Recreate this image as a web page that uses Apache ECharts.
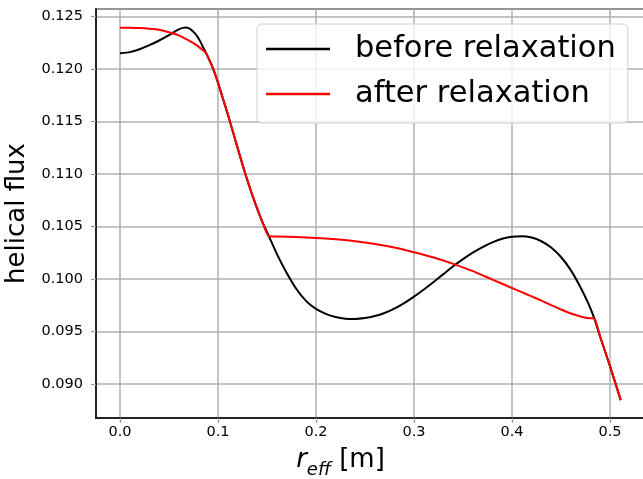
<!DOCTYPE html>
<html lang="en">
<head>
    <meta charset="UTF-8">
    <title>helical flux</title>
    <script src="https://cdn.jsdelivr.net/npm/echarts@6/dist/echarts.min.js"></script>
    <style>
        html, body { margin: 0; padding: 0; background: #fff; }
        #chart { width: 643px; height: 479px; }
    </style>
</head>
<body>
<div id="chart"></div>
<script type="text/javascript">
    // 数据: r_eff [m] 与 helical flux
    var seriesNames = ['before relaxation', 'after relaxation'];

    var rBefore = [0, 0.01, 0.02, 0.03, 0.04, 0.05, 0.055, 0.06, 0.064, 0.067, 0.07, 0.073, 0.076,
        0.079, 0.082, 0.085, 0.088,
        0.095, 0.10, 0.105, 0.11, 0.115, 0.12, 0.125, 0.13, 0.135, 0.14, 0.145, 0.152,
        0.16, 0.17, 0.18, 0.19, 0.20, 0.21, 0.22, 0.23, 0.24, 0.25, 0.26, 0.27, 0.28, 0.29,
        0.30, 0.31, 0.32, 0.33, 0.34, 0.35, 0.36, 0.37, 0.38, 0.39, 0.40, 0.41, 0.42, 0.43,
        0.44, 0.45, 0.46, 0.47, 0.478, 0.484, 0.49, 0.50, 0.511];
    var fluxBefore = [0.12151, 0.12162, 0.12190, 0.12228, 0.12273, 0.12323, 0.12353, 0.12378, 0.12393,
        0.12397, 0.12390, 0.12372, 0.12346,
        0.12310, 0.12262, 0.12205, 0.12150,
        0.12005, 0.11870, 0.11720, 0.11570, 0.11410, 0.11250, 0.11090, 0.10940, 0.10800, 0.10670,
        0.10550, 0.10407,
        0.10240, 0.10060, 0.09905, 0.09790, 0.09715, 0.09668, 0.09638, 0.09622, 0.09620, 0.09628,
        0.09647, 0.09677, 0.09718, 0.09770,
        0.09832, 0.09900, 0.09972, 0.10047, 0.10122, 0.10190, 0.10252, 0.10305, 0.10350, 0.10384,
        0.10404, 0.10408, 0.10395, 0.10360,
        0.10300, 0.10210, 0.10085, 0.09920, 0.09765, 0.09625, 0.09450, 0.09170, 0.08846];

    var rAfter = [0, 0.01, 0.02, 0.03, 0.04, 0.05, 0.06, 0.07, 0.075, 0.08, 0.084, 0.088,
        0.095, 0.10, 0.105, 0.11, 0.115, 0.12, 0.125, 0.13, 0.135, 0.14, 0.145, 0.152,
        0.16, 0.18, 0.20, 0.22, 0.24, 0.26, 0.28, 0.30, 0.32, 0.34, 0.36, 0.38, 0.40, 0.41, 0.42,
        0.43, 0.44, 0.45, 0.46, 0.47, 0.475, 0.48, 0.484, 0.49, 0.50, 0.511];
    var fluxAfter = [0.12395, 0.12394, 0.12391, 0.12385, 0.12375, 0.12352, 0.12322, 0.12275, 0.12247,
        0.12215, 0.12185, 0.12150,
        0.12005, 0.11870, 0.11720, 0.11570, 0.11410, 0.11250, 0.11090, 0.10940, 0.10800, 0.10670,
        0.10550, 0.10407,
        0.10406, 0.10401, 0.10392, 0.10378, 0.10360, 0.10334, 0.10300, 0.10255, 0.10205, 0.10145,
        0.10075, 0.09995, 0.09915, 0.09875, 0.09835, 0.09794,
        0.09752, 0.09710, 0.09672, 0.09643, 0.09632, 0.09627, 0.09625, 0.09450, 0.09170, 0.08846];

    function pairs(xs, ys) {
        var out = [];
        for (var i = 0; i < xs.length; i++) {
            out.push([xs[i], ys[i]]);
        }
        return out;
    }

    var font = 'DejaVu Sans';
    var chart = echarts.init(document.getElementById('chart'), null, {renderer: 'canvas'});

    var option = {
        animation: false,
        backgroundColor: '#fff',
        grid: {
            left: 96,
            right: -10,
            top: 9,
            bottom: 61,
            outerBoundsMode: 'none',
            containLabel: false,
            show: true,
            borderColor: '#000',
            borderWidth: 1.5,
            backgroundColor: 'transparent'
        },
        legend: {
            orient: 'vertical',
            left: 257,
            top: 24,
            padding: [7, 12, 11, 9],
            icon: 'rect',
            itemWidth: 64,
            itemHeight: 2.5,
            itemGap: 9,
            backgroundColor: 'rgba(255,255,255,0.8)',
            borderColor: '#d0d0d0',
            borderWidth: 1,
            borderRadius: 5,
            textStyle: {
                fontFamily: font,
                fontSize: 30.5,
                lineHeight: 36,
                color: '#000',
                padding: [0, 0, 0, 20]
            },
            data: seriesNames
        },
        xAxis: {
            type: 'value',
            min: -0.0245,
            max: 0.5439,
            splitNumber: 5,
            name: '{i|r}{s|eff}{n| [m]}',
            nameLocation: 'middle',
            nameGap: 29,
            nameTextStyle: {
                padding: [0, 68, 0, 0],
                rich: {
                    i: {fontFamily: font, fontStyle: 'italic', fontSize: 26, color: '#000',
                        verticalAlign: 'bottom', padding: [0, 0, 6, 0]},
                    s: {fontFamily: font, fontStyle: 'italic', fontSize: 18, color: '#000',
                        verticalAlign: 'bottom'},
                    n: {fontFamily: font, fontSize: 26, color: '#000',
                        verticalAlign: 'bottom', padding: [0, 0, 6, 0]}
                }
            },
            axisLine: {onZero: false, lineStyle: {color: '#000', width: 1.5}},
            axisTick: {show: true, length: 5, lineStyle: {color: '#999', width: 1.2}},
            axisLabel: {
                margin: 7,
                fontFamily: font,
                fontSize: 14.5,
                color: '#000',
                showMinLabel: false,
                showMaxLabel: false,
                formatter: function (v) {
                    var k = Math.round(v * 10);
                    return Math.abs(v * 10 - k) < 1e-6 ? v.toFixed(1) : '';
                }
            },
            splitLine: {show: true, lineStyle: {color: '#b0b0b0', width: 1.5}}
        },
        yAxis: {
            type: 'value',
            min: 0.08676,
            max: 0.12573,
            splitNumber: 8,
            name: 'helical flux',
            nameLocation: 'middle',
            nameGap: 58,
            nameTextStyle: {fontFamily: font, fontSize: 26, color: '#000'},
            axisLine: {onZero: false, lineStyle: {color: '#000', width: 1.5}},
            axisTick: {show: true, length: 5, lineStyle: {color: '#999', width: 1.2}},
            axisLabel: {
                margin: 13,
                fontFamily: font,
                fontSize: 14.5,
                color: '#000',
                showMinLabel: false,
                showMaxLabel: false,
                formatter: function (v) {
                    var k = Math.round(v * 200);
                    return Math.abs(v * 200 - k) < 1e-6 ? v.toFixed(3) : '';
                }
            },
            splitLine: {show: true, lineStyle: {color: '#b0b0b0', width: 1.5}}
        },
        series: [
            {
                name: seriesNames[0],
                type: 'line',
                data: pairs(rBefore, fluxBefore),
                showSymbol: false,
                symbol: 'none',
                smooth: 0.2,
                color: '#000',
                lineStyle: {color: '#000', width: 2}
            },
            {
                name: seriesNames[1],
                type: 'line',
                data: pairs(rAfter, fluxAfter),
                showSymbol: false,
                symbol: 'none',
                smooth: 0.2,
                color: '#ff0000',
                lineStyle: {color: '#ff0000', width: 2}
            }
        ]
    };
    chart.setOption(option);
</script>
</body>
</html>
